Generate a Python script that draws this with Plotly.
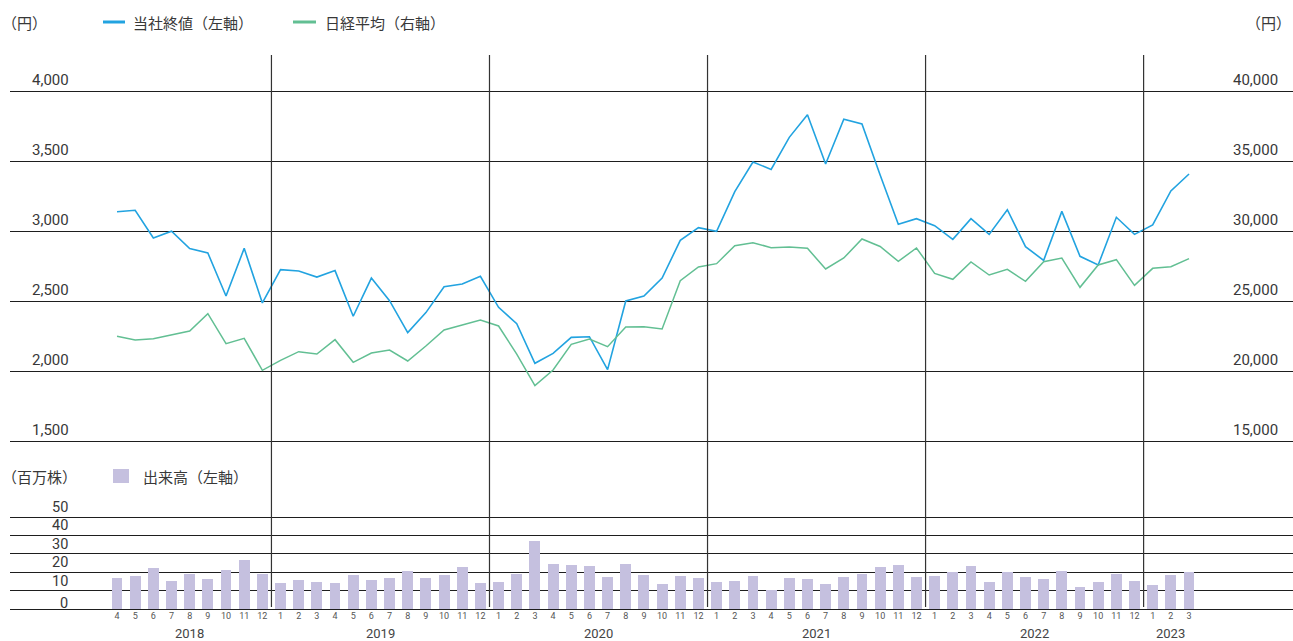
import plotly.graph_objects as go

# ---- data -------------------------------------------------------------
years = [2018] * 9 + [2019] * 12 + [2020] * 12 + [2021] * 12 + [2022] * 12 + [2023] * 3
months = list(range(4, 13)) + list(range(1, 13)) * 4 + [1, 2, 3]

close_price = [
    3138, 3148, 2950, 2998, 2874, 2843, 2536, 2876, 2486,
    2724, 2714, 2671, 2717, 2391, 2664, 2502, 2274, 2417, 2602, 2621, 2676,
    2455, 2338, 2055, 2126, 2240, 2245, 2010, 2500, 2536, 2664, 2933, 3024,
    2998, 3281, 3493, 3440, 3669, 3831, 3479, 3798, 3764, 3400, 3048, 3088,
    3038, 2940, 3088, 2976, 3152, 2888, 2790, 3140, 2819, 2757, 3098, 2976,
    3043, 3286, 3407,
]
nikkei = [
    22476, 22214, 22310, 22571, 22857, 24095, 21952, 22333, 20048,
    20762, 21381, 21214, 22238, 20619, 21286, 21500, 20714, 21786, 22929, 23286, 23643,
    23214, 21200, 18952, 20071, 21905, 22286, 21738, 23143, 23167, 23000, 26452, 27429,
    27667, 28952, 29167, 28810, 28857, 28762, 27286, 28071, 29429, 28893, 27833, 28786,
    26976, 26548, 27786, 26857, 27262, 26405, 27810, 28071, 25976, 27571, 27952, 26119,
    27333, 27452, 28024,
]
volume = [
    16.7, 17.8, 22.1, 15.1, 18.9, 16.2, 21.0, 26.4, 18.9,
    14.0, 15.6, 14.5, 14.0, 18.3, 15.6, 16.7, 20.3, 16.7, 18.3, 22.6, 14.0,
    14.5, 18.9, 36.6, 24.2, 23.7, 23.2, 17.2, 24.2, 18.3, 13.5, 17.8, 16.7,
    14.5, 15.1, 17.8, 10.2, 16.7, 16.2, 13.5, 17.2, 18.9, 22.6, 23.7, 17.2,
    17.8, 19.9, 23.2, 14.5, 19.9, 17.2, 16.2, 20.5, 11.8, 14.5, 18.9, 15.1,
    12.9, 18.3, 19.9,
]

price_ticks = [1500, 2000, 2500, 3000, 3500, 4000]
nikkei_ticks = [15000, 20000, 25000, 30000, 35000, 40000]
volume_ticks = [0, 10, 20, 30, 40, 50]

label_close = "当社終値（左軸）"
label_nikkei = "日経平均（右軸）"
label_volume = "出来高（左軸）"
unit_yen = "（円）"
unit_shares = "（百万株）"

# ---- styling ------------------------------------------------------------
W, H = 1293, 641
BLUE = "#22a3e0"
GREEN = "#62bf93"
BAR = "#c5c0df"
GRID = "#1e1e1e"
TXT = "#383838"
NUM_FONT = "Roboto"
JP_FONT = "Noto Sans CJK JP"


def py(px):
    """pixel row -> paper y"""
    return 1 - px / H


def pxx(px):
    """pixel column -> paper x"""
    return px / W


x = list(range(len(months)))
step = 18.17
dom_x0 = 10
x_range = [-(117 - dom_x0) / step, -(117 - dom_x0) / step + (W - dom_x0) / step]

# price panel: 1500 at row 441, 4000 at row 91 (0.14 px per yen); padded so edge gridlines show
pad_px = 7
top_range = [1500 - pad_px / 0.14, 4000 + pad_px / 0.14]
top_dom = [py(441 + pad_px), py(91 - pad_px)]
# volume panel: 0 at row 609, 50 at row 517
vol_scale = (609 - 517) / 50
vpad = 2
vol_range = [-vpad, 50 + vpad]
vol_dom = [py(609 + vpad * vol_scale), py(517 - vpad * vol_scale)]

fig = go.Figure()

fig.add_trace(go.Bar(
    x=x, y=volume, marker=dict(color=BAR, line=dict(width=0)), width=0.6,
    xaxis="x", yaxis="y3", showlegend=False, hoverinfo="skip",
))
fig.add_trace(go.Scatter(
    x=x, y=nikkei, mode="lines", line=dict(color=GREEN, width=1.5),
    xaxis="x", yaxis="y2", showlegend=False,
))
fig.add_trace(go.Scatter(
    x=x, y=close_price, mode="lines", line=dict(color=BLUE, width=1.6),
    xaxis="x", yaxis="y", showlegend=False,
))

axis_common = dict(showline=False, zeroline=False, ticks="", showticklabels=False, fixedrange=True)

fig.update_layout(
    width=W, height=H,
    margin=dict(l=0, r=0, t=0, b=0),
    paper_bgcolor="white", plot_bgcolor="white",
    bargap=0,
    xaxis=dict(
        domain=[pxx(dom_x0), 1], range=x_range, anchor="free", position=py(609),
        showgrid=False, zeroline=False, showline=False, ticks="",
        tickmode="array", tickvals=x, ticktext=[str(m) for m in months],
        tickfont=dict(family=NUM_FONT, size=9, color="#555555"),
        fixedrange=True,
    ),
    yaxis=dict(
        domain=top_dom, range=top_range, anchor="x",
        tickmode="array", tickvals=price_ticks,
        showgrid=True, gridcolor=GRID, gridwidth=1, **axis_common,
    ),
    yaxis2=dict(
        domain=top_dom, range=[v * 10 for v in top_range], overlaying="y", side="right",
        anchor="x", showgrid=False, **axis_common,
    ),
    yaxis3=dict(
        domain=vol_dom, range=vol_range, anchor="x",
        tickmode="array", tickvals=volume_ticks,
        showgrid=True, gridcolor=GRID, gridwidth=1, **axis_common,
    ),
)

# year separators
shapes = []
for i in range(1, len(months)):
    if months[i] == 1:
        shapes.append(dict(
            type="line", xref="x", yref="paper", x0=i - 0.5, x1=i - 0.5,
            y0=py(607), y1=py(55), line=dict(color="#333333", width=1.2),
        ))

# legend swatches
shapes.append(dict(type="line", xref="paper", yref="paper", x0=pxx(103), x1=pxx(125),
                   y0=py(22), y1=py(22), line=dict(color=BLUE, width=3)))
shapes.append(dict(type="line", xref="paper", yref="paper", x0=pxx(293), x1=pxx(316),
                   y0=py(22), y1=py(22), line=dict(color=GREEN, width=3)))
shapes.append(dict(type="rect", xref="paper", yref="paper", x0=pxx(113), x1=pxx(129),
                   y0=py(483), y1=py(469), fillcolor=BAR, line=dict(width=0)))

annotations = []


def txt(text, xp, yp, anchor="left", size=15, font=JP_FONT, color=TXT, yanchor="middle"):
    annotations.append(dict(
        text=text, xref="paper", yref="paper", x=pxx(xp), y=py(yp),
        xanchor=anchor, yanchor=yanchor, showarrow=False,
        font=dict(family=font, size=size, color=color),
    ))


txt(unit_yen, 0, 22)
txt(label_close, 131, 22)
txt(label_nikkei, 323, 22)
txt(unit_yen, 1293, 22, anchor="right")
txt(unit_shares, 0, 476)
txt(label_volume, 141, 476)

# axis value labels sitting just above their gridlines
for v in price_ticks:
    annotations.append(dict(
        text=f"{v:,}", xref="paper", yref="y", x=pxx(71), y=v,
        xanchor="right", yanchor="bottom", yshift=0, showarrow=False,
        font=dict(family=NUM_FONT, size=15, color=TXT),
    ))
for v in nikkei_ticks:
    annotations.append(dict(
        text=f"{v:,}", xref="paper", yref="y2", x=pxx(1280), y=v,
        xanchor="right", yanchor="bottom", yshift=0, showarrow=False,
        font=dict(family=NUM_FONT, size=15, color=TXT),
    ))
for v in volume_ticks:
    annotations.append(dict(
        text=str(v), xref="paper", yref="y3", x=pxx(70), y=v,
        xanchor="right", yanchor="bottom", yshift=-5 if v == 0 else -1, showarrow=False,
        font=dict(family=NUM_FONT, size=14.5, color=TXT),
    ))

# year labels centred under their months
for yr in sorted(set(years)):
    idx = [i for i, y in enumerate(years) if y == yr]
    annotations.append(dict(
        text=str(yr), xref="x", yref="paper", x=sum(idx) / len(idx), y=py(633),
        xanchor="center", yanchor="middle", showarrow=False,
        font=dict(family=NUM_FONT, size=13, color="#444444"),
    ))

fig.update_layout(shapes=shapes, annotations=annotations)

fig.write_html("out.html")
